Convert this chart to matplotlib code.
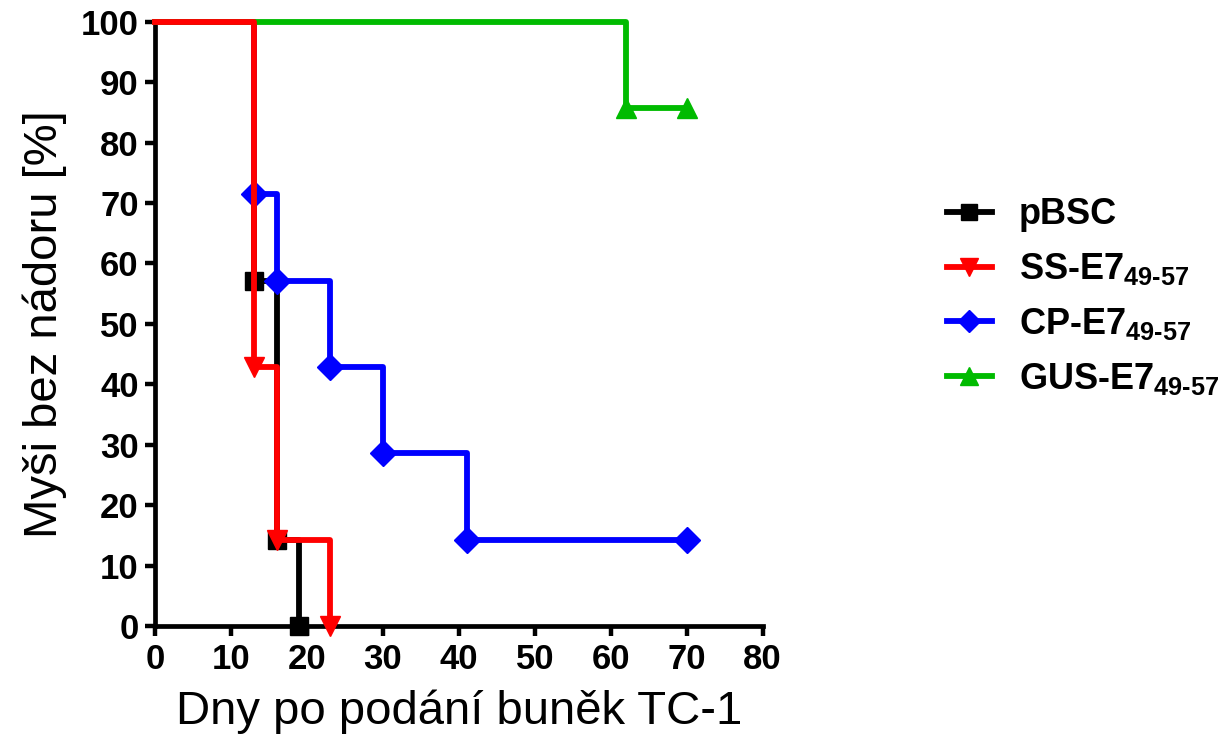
import matplotlib
matplotlib.use("Agg")
import matplotlib.pyplot as plt

plt.rcParams['font.family'] = ['Liberation Sans', 'DejaVu Sans']
plt.rcParams['mathtext.fontset'] = 'custom'
plt.rcParams['mathtext.rm'] = 'Liberation Sans:bold'
plt.rcParams['mathtext.bf'] = 'Liberation Sans:bold'
plt.rcParams['mathtext.it'] = 'Liberation Sans:bold'

# Kaplan-Meier data (days, % tumour-free)
pbsc_x = [0, 13, 16, 19]
pbsc_y = [100, 57.14, 14.29, 0]
ss_x = [0, 13, 16, 23]
ss_y = [100, 42.86, 14.29, 0]
cp_x = [0, 13, 16, 23, 30, 41, 70]
cp_y = [100, 71.43, 57.14, 42.86, 28.57, 14.29, 14.29]
gus_x = [0, 62, 70]
gus_y = [100, 85.71, 85.71]

labels = ['pBSC', r'SS-E7$_{49\text{-}57}$', r'CP-E7$_{49\text{-}57}$', r'GUS-E7$_{49\text{-}57}$']
xticks = [0, 10, 20, 30, 40, 50, 60, 70, 80]
yticks = [0, 10, 20, 30, 40, 50, 60, 70, 80, 90, 100]

fig = plt.figure(figsize=(12.32, 7.48), dpi=100)
ax = fig.add_axes([0.126, 0.163, 0.493, 0.808])

lw = 4.2
ms = 13
h1, = ax.step(pbsc_x, pbsc_y, where='post', color='black', lw=lw, marker='s',
              ms=ms, markevery=list(range(1, len(pbsc_x))), clip_on=False, zorder=3)
h3, = ax.step(cp_x, cp_y, where='post', color='#0000ff', lw=lw, marker='D',
              ms=ms, markevery=list(range(1, len(cp_x))), clip_on=False, zorder=4)
h4, = ax.step(gus_x, gus_y, where='post', color='#00bb00', lw=lw, marker='^',
              ms=ms + 1, markevery=list(range(1, len(gus_x))), clip_on=False, zorder=5)
h2, = ax.step(ss_x, ss_y, where='post', color='#ff0000', lw=lw, marker='v',
              ms=ms + 1, markevery=list(range(1, len(ss_x))), clip_on=False, zorder=6)

ax.set_xlim(0, 80)
ax.set_ylim(0, 100)
ax.set_xticks(xticks)
ax.set_yticks(yticks)
ax.spines['top'].set_visible(False)
ax.spines['right'].set_visible(False)
for s in ['left', 'bottom']:
    ax.spines[s].set_linewidth(3.4)
ax.tick_params(direction='out', length=7, width=3.2, labelsize=25, pad=5)
for t in ax.get_xticklabels() + ax.get_yticklabels():
    t.set_fontweight('bold')

ax.set_xlabel('Dny po podání buněk TC-1', fontsize=34, labelpad=10)
ax.set_ylabel('Myši bez nádoru [%]', fontsize=34, labelpad=10)

leg = fig.legend([h1, h2, h3, h4], labels, loc='upper left',
                 bbox_to_anchor=(0.751, 0.765), frameon=False,
                 prop={'weight': 'bold', 'size': 26}, handlelength=1.25,
                 handletextpad=0.75, labelspacing=0.52, markerscale=0.9,
                 borderaxespad=0.2)

fig.savefig('out.png', dpi=100)
